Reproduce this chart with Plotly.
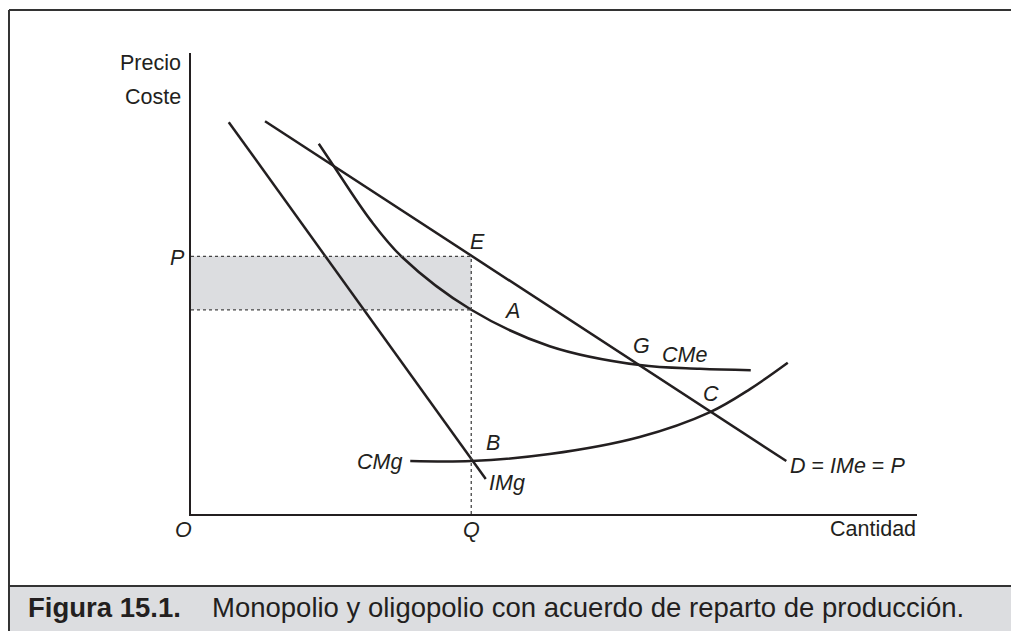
import plotly.graph_objects as go

# Curve values (quantity 0-100 along the x axis, price/cost 0-100 up the y axis)
img_x = [5.2, 40.6]
img_y = [85.0, 7.6]
demand_x = [10.2, 82.0]
demand_y = [85.2, 11.5]
cme_x = [17.6, 19.4, 24.7, 29.1, 38.6, 49.4, 61.8, 70.1, 77.1]
cme_y = [80.3, 76.1, 63.8, 55.7, 44.3, 36.4, 32.3, 31.5, 31.2]
cmg_x = [30.2, 38.6, 49.4, 61.8, 71.5, 77.0, 82.2]
cmg_y = [11.5, 11.5, 13.0, 16.7, 22.1, 27.1, 32.8]

q_mono = 38.6      # Q
p_mono = 55.9      # P
cme_at_q = 44.3    # point A

# Configuration
INK = '#231f20'
GRAY = '#dcdde0'
FONT = 'Liberation Sans, Arial, sans-serif'
LABEL_SIZE = 21.5
CAPTION_SIZE = 27.5

fig = go.Figure()

line_style = dict(color=INK, width=2.5)
fig.add_trace(go.Scatter(x=img_x, y=img_y, mode='lines', line=line_style, hoverinfo='skip'))
fig.add_trace(go.Scatter(x=demand_x, y=demand_y, mode='lines', line=line_style, hoverinfo='skip'))
fig.add_trace(go.Scatter(x=cme_x, y=cme_y, mode='lines', line=dict(line_style, shape='spline'),
                         hoverinfo='skip'))
fig.add_trace(go.Scatter(x=cmg_x, y=cmg_y, mode='lines', line=dict(line_style, shape='spline'),
                         hoverinfo='skip'))

dot = dict(color='#444444', width=1.3, dash='dot')
FRAME_X = -0.2507
shapes = [
    # profit rectangle
    dict(type='rect', xref='x', yref='y', x0=0, x1=q_mono, y0=cme_at_q, y1=p_mono,
         fillcolor=GRAY, line=dict(width=0), layer='below'),
    dict(type='line', xref='x', yref='y', x0=0, x1=q_mono, y0=p_mono, y1=p_mono, line=dot),
    dict(type='line', xref='x', yref='y', x0=0, x1=q_mono, y0=cme_at_q, y1=cme_at_q, line=dot),
    dict(type='line', xref='x', yref='y', x0=q_mono, x1=q_mono, y0=0, y1=p_mono, line=dot),
    # frame and caption bar
    dict(type='rect', xref='paper', yref='paper', x0=FRAME_X, x1=1.2, y0=-0.3, y1=-0.1562,
         fillcolor=GRAY, line=dict(width=0)),
    dict(type='line', xref='paper', yref='paper', x0=FRAME_X, x1=1.2, y0=-0.1562, y1=-0.1562,
         line=dict(color='#333333', width=2)),
    dict(type='line', xref='paper', yref='paper', x0=FRAME_X, x1=1.2, y0=1.0933, y1=1.0933,
         line=dict(color='#333333', width=2)),
    dict(type='line', xref='paper', yref='paper', x0=FRAME_X, x1=FRAME_X, y0=-0.3, y1=1.0933,
         line=dict(color='#333333', width=2)),
]


def label(text, x, y, ref='data', anchor='center'):
    r = 'paper' if ref == 'paper' else None
    return dict(text=text, x=x, y=y, xref=r or 'x', yref=r or 'y', showarrow=False,
                xanchor=anchor, yanchor='middle',
                font=dict(family=FONT, size=LABEL_SIZE, color=INK))


annotations = [
    label('Precio', -0.011, 0.978, 'paper', 'right'),
    label('Coste', -0.011, 0.9046, 'paper', 'right'),
    label('<i>P</i>', -0.0055, 0.555, 'paper', 'right'),
    label('<i>O</i>', -0.011, -0.0347, 'paper'),
    label('<i>Q</i>', 0.3857, -0.0347, 'paper'),
    label('Cantidad', 1.0014, -0.0325, 'paper', 'right'),
    label('<i>E</i>', 39.5, 59.0),
    label('<i>A</i>', 44.2, 44.0),
    label('<i>G</i>', 62.1, 36.4),
    label('<i>CMe</i>', 68.0, 34.5),
    label('<i>C</i>', 71.6, 26.0),
    label('<i>B</i>', 41.6, 15.4),
    label('<i>CMg</i>', 29.3, 11.3, anchor='right'),
    label('<i>IMg</i>', 40.8, 6.7, anchor='left'),
    label('<i>D</i> = <i>IMe</i> = <i>P</i>', 82.2, 10.4, anchor='left'),
    dict(text='<b>Figura 15.1.</b>', x=-0.2273, y=-0.2039, xref='paper', yref='paper',
         showarrow=False, xanchor='left', yanchor='middle',
         font=dict(family=FONT, size=CAPTION_SIZE, color=INK)),
    dict(text='Monopolio y oligopolio con acuerdo de reparto de producción.', x=0.0262, y=-0.2039,
         xref='paper', yref='paper', showarrow=False, xanchor='left', yanchor='middle',
         font=dict(family=FONT, size=CAPTION_SIZE, color=INK)),
]

axis_common = dict(showgrid=False, zeroline=False, showticklabels=False, ticks='',
                   showline=True, linecolor=INK, linewidth=1.5, fixedrange=True)

# the page body adds an 8px margin, so the figure is 8px smaller and sits 8px in
fig.update_layout(
    width=1011, height=623,
    margin=dict(l=183, r=102, t=45, b=117),
    paper_bgcolor='white', plot_bgcolor='white',
    showlegend=False,
    xaxis=dict(axis_common, range=[0, 100]),
    yaxis=dict(axis_common, range=[0, 100]),
    shapes=shapes,
    annotations=annotations,
)

fig.write_html("out.html")
